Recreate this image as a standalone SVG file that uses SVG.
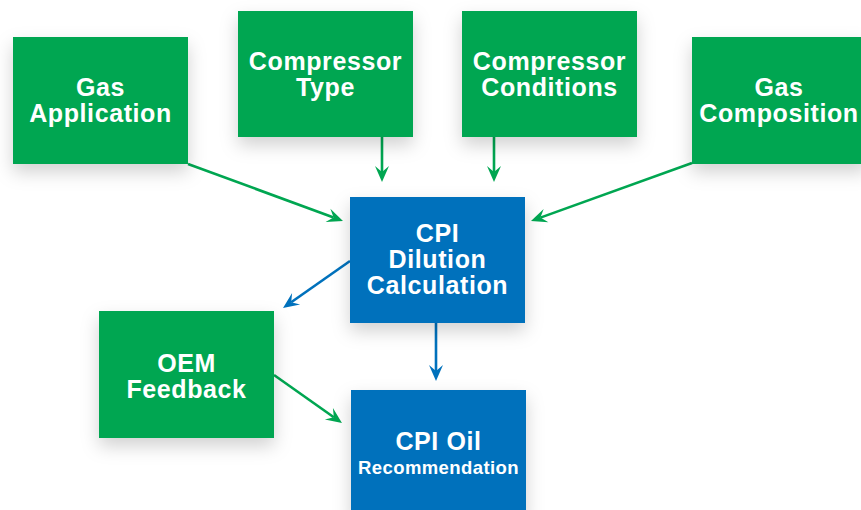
<svg xmlns="http://www.w3.org/2000/svg" width="861" height="510" viewBox="0 0 861 510">
<defs>
<filter id="sh" x="-30%" y="-30%" width="160%" height="170%">
<feDropShadow dx="0" dy="8" stdDeviation="9" flood-color="#000" flood-opacity="0.18"/>
</filter>
<marker id="ag" viewBox="-17 -8 18 16" refX="-10" refY="0" markerWidth="18" markerHeight="16" markerUnits="userSpaceOnUse" orient="auto">
<path d="M0,0 L-16,-7 L-10,0 L-16,7 Z" fill="#00A651"/>
</marker>
<marker id="ab" viewBox="-17 -8 18 16" refX="-10" refY="0" markerWidth="18" markerHeight="16" markerUnits="userSpaceOnUse" orient="auto">
<path d="M0,0 L-16,-7 L-10,0 L-16,7 Z" fill="#0071BC"/>
</marker>
</defs>
<style>
.g{fill:#00A651;filter:url(#sh)}
.b{fill:#0071BC;filter:url(#sh)}
text{font-family:"Liberation Sans",Arial,sans-serif;font-weight:bold;fill:#fff;text-anchor:middle;font-size:25px;letter-spacing:0.6px}
.sm{font-size:18.5px;letter-spacing:0.4px}
.lg{stroke:#00A651;stroke-width:2.6;fill:none;marker-end:url(#ag)}
.lb{stroke:#0071BC;stroke-width:2.6;fill:none;marker-end:url(#ab)}
</style>
<rect width="861" height="510" fill="#fff"/>
<g id="connectors">
<line class="lg" x1="188" y1="164" x2="333.6" y2="217.5"/>
<line class="lg" x1="382" y1="137" x2="382" y2="172"/>
<line class="lg" x1="494" y1="137" x2="494" y2="172"/>
<line class="lg" x1="692" y1="163" x2="540.4" y2="217.6"/>
<line class="lb" x1="350" y1="261" x2="291.2" y2="302.3"/>
<line class="lb" x1="436" y1="323" x2="436" y2="371"/>
<line class="lg" x1="274" y1="375" x2="333.8" y2="417.2"/>
</g>
<g id="gas-application">
<rect class="g" x="13" y="37" width="175" height="127"/>
<text x="100.5" y="96">Gas</text>
<text x="100.5" y="122">Application</text>
</g>
<g id="compressor-type">
<rect class="g" x="238" y="11" width="175" height="126"/>
<text x="325.5" y="70">Compressor</text>
<text x="325.5" y="96">Type</text>
</g>
<g id="compressor-conditions">
<rect class="g" x="462" y="11" width="175" height="126"/>
<text x="549.5" y="70">Compressor</text>
<text x="549.5" y="96">Conditions</text>
</g>
<g id="gas-composition">
<rect class="g" x="692" y="37" width="175" height="127"/>
<text x="779" y="96">Gas</text>
<text x="779" y="122">Composition</text>
</g>
<g id="cpi-dilution">
<rect class="b" x="350" y="197" width="175" height="126"/>
<text x="437.5" y="242">CPI</text>
<text x="437.5" y="268">Dilution</text>
<text x="437.5" y="294">Calculation</text>
</g>
<g id="oem-feedback">
<rect class="g" x="99" y="311" width="175" height="127"/>
<text x="186.5" y="372">OEM</text>
<text x="186.5" y="398">Feedback</text>
</g>
<g id="cpi-oil">
<rect class="b" x="351" y="390" width="175" height="127"/>
<text x="438.5" y="450">CPI Oil</text>
<text class="sm" x="438.5" y="474">Recommendation</text>
</g>
</svg>
